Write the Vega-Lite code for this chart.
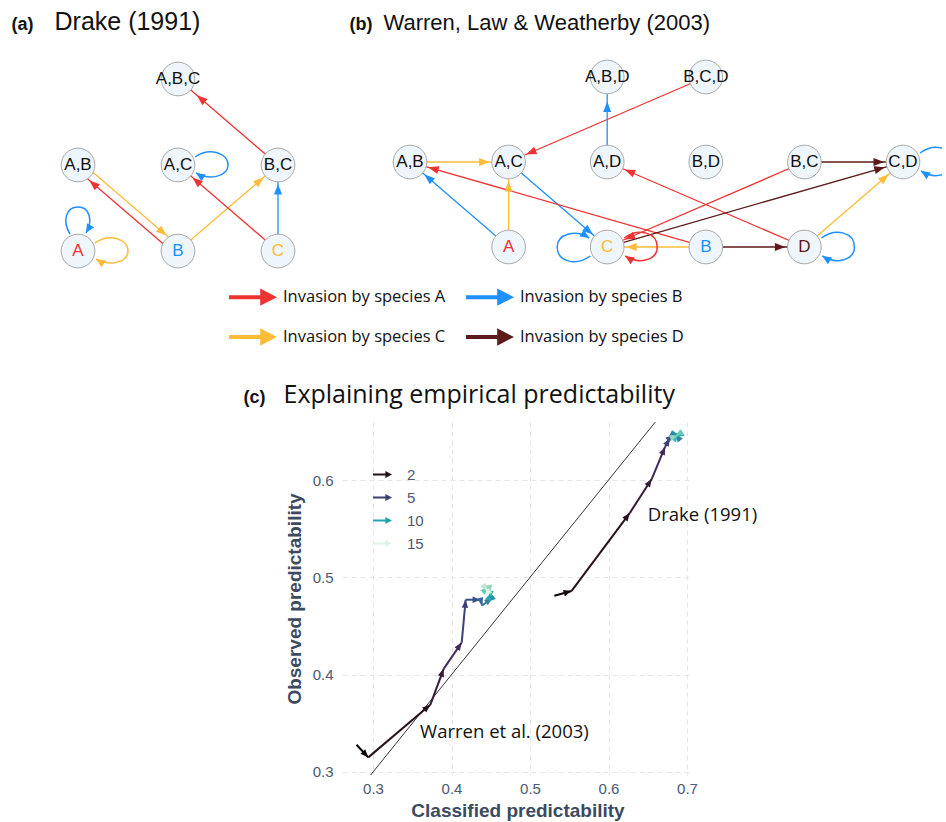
{
  "$schema": "https://vega.github.io/schema/vega-lite/v6.json",
  "background": "white",
  "padding": {"left": 10, "top": 9, "right": 4, "bottom": 2},
  "autosize": {"type": "pad"},
  "columns": 2,
  "bounds": "flush",
  "spacing": {"row": 150, "column": 22},
  "config": {"view": {"stroke": null}, "font": "Liberation Sans", "axis": {"labelFlush": false}},
  "resolve": {"scale": {"fill": "independent", "stroke": "independent", "color": "independent", "shape": "independent", "size": "independent"}},
  "datasets": {
    "nodesA": [
      {"id": "A", "x": 0, "y": 1}, {"id": "B", "x": 1, "y": 1}, {"id": "C", "x": 2, "y": 1},
      {"id": "A,B", "x": 0, "y": 2}, {"id": "A,C", "x": 1, "y": 2}, {"id": "B,C", "x": 2, "y": 2},
      {"id": "A,B,C", "x": 1, "y": 3}
    ],
    "edgesA": [
      {"from": "B", "to": "A,B", "sp": "A"},
      {"from": "A,B", "to": "B", "sp": "C"},
      {"from": "B", "to": "B,C", "sp": "C"},
      {"from": "C", "to": "A,C", "sp": "A"},
      {"from": "C", "to": "B,C", "sp": "B"},
      {"from": "B,C", "to": "A,B,C", "sp": "A"}
    ],
    "loopsA": [
      {"node": "A", "sp": "B", "side": "top"},
      {"node": "A", "sp": "C", "side": "right"},
      {"node": "A,C", "sp": "B", "side": "right"}
    ],
    "nodesB": [
      {"id": "A,B,D", "x": 2, "y": 3}, {"id": "B,C,D", "x": 3, "y": 3},
      {"id": "A,B", "x": 0, "y": 2}, {"id": "A,C", "x": 1, "y": 2}, {"id": "A,D", "x": 2, "y": 2},
      {"id": "B,D", "x": 3, "y": 2}, {"id": "B,C", "x": 4, "y": 2}, {"id": "C,D", "x": 5, "y": 2},
      {"id": "A", "x": 1, "y": 1}, {"id": "C", "x": 2, "y": 1}, {"id": "B", "x": 3, "y": 1}, {"id": "D", "x": 4, "y": 1}
    ],
    "edgesB": [
      {"from": "B,C,D", "to": "A,C", "sp": "A"},
      {"from": "A,D", "to": "A,B,D", "sp": "B"},
      {"from": "A,B", "to": "A,C", "sp": "C"},
      {"from": "A", "to": "A,B", "sp": "B"},
      {"from": "A", "to": "A,C", "sp": "C"},
      {"from": "A,C", "to": "C", "sp": "B"},
      {"from": "B", "to": "A,B", "sp": "A"},
      {"from": "D", "to": "A,D", "sp": "A"},
      {"from": "B,C", "to": "C", "sp": "A"},
      {"from": "B,C", "to": "C,D", "sp": "D"},
      {"from": "C", "to": "C,D", "sp": "D"},
      {"from": "D", "to": "C,D", "sp": "C"},
      {"from": "B", "to": "D", "sp": "D"},
      {"from": "B", "to": "C", "sp": "C"}
    ],
    "loopsB": [
      {"node": "C", "sp": "B", "side": "left"},
      {"node": "C", "sp": "A", "side": "right"},
      {"node": "D", "sp": "B", "side": "right"},
      {"node": "C,D", "sp": "B", "side": "right"}
    ],
    "traj": [
      {"study": "Warren", "step": 1, "x0": 0.279, "y0": 0.328, "x1": 0.294, "y1": 0.315},
      {"study": "Warren", "step": 2, "x0": 0.294, "y0": 0.315, "x1": 0.373, "y1": 0.369},
      {"study": "Warren", "step": 3, "x0": 0.373, "y0": 0.369, "x1": 0.390, "y1": 0.406},
      {"study": "Warren", "step": 4, "x0": 0.390, "y0": 0.406, "x1": 0.413, "y1": 0.433},
      {"study": "Warren", "step": 5, "x0": 0.413, "y0": 0.433, "x1": 0.418, "y1": 0.477},
      {"study": "Warren", "step": 6, "x0": 0.418, "y0": 0.477, "x1": 0.437, "y1": 0.477},
      {"study": "Warren", "step": 7, "x0": 0.437, "y0": 0.477, "x1": 0.439, "y1": 0.471},
      {"study": "Warren", "step": 8, "x0": 0.439, "y0": 0.471, "x1": 0.452, "y1": 0.479},
      {"study": "Warren", "step": 9, "x0": 0.452, "y0": 0.479, "x1": 0.446, "y1": 0.475},
      {"study": "Warren", "step": 10, "x0": 0.446, "y0": 0.475, "x1": 0.450, "y1": 0.484},
      {"study": "Warren", "step": 11, "x0": 0.450, "y0": 0.484, "x1": 0.443, "y1": 0.487},
      {"study": "Warren", "step": 12, "x0": 0.443, "y0": 0.487, "x1": 0.447, "y1": 0.490},
      {"study": "Warren", "step": 13, "x0": 0.447, "y0": 0.490, "x1": 0.441, "y1": 0.491},
      {"study": "Warren", "step": 14, "x0": 0.441, "y0": 0.491, "x1": 0.446, "y1": 0.486},
      {"study": "Warren", "step": 15, "x0": 0.446, "y0": 0.486, "x1": 0.443, "y1": 0.490},
      {"study": "Drake", "step": 1, "x0": 0.531, "y0": 0.481, "x1": 0.553, "y1": 0.486},
      {"study": "Drake", "step": 2, "x0": 0.553, "y0": 0.486, "x1": 0.627, "y1": 0.566},
      {"study": "Drake", "step": 3, "x0": 0.627, "y0": 0.566, "x1": 0.655, "y1": 0.601},
      {"study": "Drake", "step": 4, "x0": 0.655, "y0": 0.601, "x1": 0.672, "y1": 0.634},
      {"study": "Drake", "step": 5, "x0": 0.672, "y0": 0.634, "x1": 0.678, "y1": 0.643},
      {"study": "Drake", "step": 6, "x0": 0.678, "y0": 0.643, "x1": 0.683, "y1": 0.646},
      {"study": "Drake", "step": 7, "x0": 0.683, "y0": 0.646, "x1": 0.688, "y1": 0.644},
      {"study": "Drake", "step": 8, "x0": 0.688, "y0": 0.644, "x1": 0.685, "y1": 0.647},
      {"study": "Drake", "step": 9, "x0": 0.685, "y0": 0.647, "x1": 0.690, "y1": 0.646},
      {"study": "Drake", "step": 10, "x0": 0.690, "y0": 0.646, "x1": 0.686, "y1": 0.644},
      {"study": "Drake", "step": 11, "x0": 0.686, "y0": 0.644, "x1": 0.689, "y1": 0.647},
      {"study": "Drake", "step": 12, "x0": 0.689, "y0": 0.647, "x1": 0.685, "y1": 0.645},
      {"study": "Drake", "step": 13, "x0": 0.685, "y0": 0.645, "x1": 0.688, "y1": 0.646}
    ],
    "ref": [{"x0": 0.25, "y0": 0.25, "x1": 0.7, "y1": 0.7}],
    "notes": [
      {"label": "Warren et al. (2003)", "x": 0.36, "y": 0.341},
      {"label": "Drake (1991)", "x": 0.65, "y": 0.564}
    ]
  },
  "concat": [
    {
      "width": 310, "height": 230,
      "resolve": {"scale": {"shape": "independent"}, "axis": {"x": "independent", "y": "independent"}},
      "layer": [
        {
          "data": {"name": "edgesA"},
          "transform": [
            {"lookup": "to", "from": {"data": {"name": "nodesA"}, "key": "id", "fields": ["x", "y"]}},
            {"lookup": "from", "from": {"data": {"name": "nodesA"}, "key": "id", "fields": ["x", "y"]}, "as": ["x1", "y1"]},
            {"filter": "!((datum.from == 'B' && datum.to == 'A,B') || (datum.from == 'A,B' && datum.to == 'B'))"}
          ],
          "mark": {"type": "rule", "strokeWidth": 1.3},
          "encoding": {
            "x": {"field": "x", "type": "quantitative", "scale": {"domain": [-0.68, 2.42], "nice": false, "zero": false},
                  "axis": {"orient": "top", "domain": false, "ticks": false, "labels": false, "grid": false, "title": "(a)", "titleX": 1, "titleY": -13, "titleAlign": "left", "titleAnchor": "start", "titleBaseline": "alphabetic", "titleAngle": 0, "titleFont": "Liberation Sans", "titleFontSize": 18, "titleFontWeight": "bold", "titleColor": "#111111"}},
            "y": {"field": "y", "type": "quantitative", "scale": {"domain": [0.756, 3.43], "nice": false, "zero": false},
                  "axis": {"orient": "left", "domain": false, "ticks": false, "labels": false, "grid": false, "title": "Drake (1991)", "titleX": 44, "titleY": -13, "titleAlign": "left", "titleAnchor": "start", "titleBaseline": "alphabetic", "titleAngle": 0, "titleFont": "Liberation Sans", "titleFontSize": 25, "titleFontWeight": "normal", "titleColor": "#111111"}},
            "x2": {"field": "x1"}, "y2": {"field": "y1"},
            "stroke": {"field": "sp", "type": "nominal", "scale": {"domain": ["A", "B", "C", "D"], "range": ["#EE3333", "#1E90FF", "#FDBB3A", "#5C1A1A"]}, "legend": null}
          }
        },
        {
          "data": {"name": "edgesA"},
          "transform": [
            {"lookup": "to", "from": {"data": {"name": "nodesA"}, "key": "id", "fields": ["x", "y"]}},
            {"lookup": "from", "from": {"data": {"name": "nodesA"}, "key": "id", "fields": ["x", "y"]}, "as": ["x1", "y1"]},
            {"filter": "datum.from == 'B' && datum.to == 'A,B'"}
          ],
          "mark": {"type": "rule", "strokeWidth": 1.3, "xOffset": -3, "x2Offset": -3, "yOffset": 3, "y2Offset": 3},
          "encoding": {
            "x": {"field": "x", "type": "quantitative", "scale": {"domain": [-0.68, 2.42], "nice": false, "zero": false}, "axis": null},
            "y": {"field": "y", "type": "quantitative", "scale": {"domain": [0.756, 3.43], "nice": false, "zero": false}, "axis": null},
            "x2": {"field": "x1"}, "y2": {"field": "y1"},
            "stroke": {"field": "sp", "type": "nominal", "scale": {"domain": ["A", "B", "C", "D"], "range": ["#EE3333", "#1E90FF", "#FDBB3A", "#5C1A1A"]}, "legend": null}
          }
        },
        {
          "data": {"name": "edgesA"},
          "transform": [
            {"lookup": "to", "from": {"data": {"name": "nodesA"}, "key": "id", "fields": ["x", "y"]}},
            {"lookup": "from", "from": {"data": {"name": "nodesA"}, "key": "id", "fields": ["x", "y"]}, "as": ["x1", "y1"]},
            {"filter": "datum.from == 'A,B' && datum.to == 'B'"}
          ],
          "mark": {"type": "rule", "strokeWidth": 1.3, "xOffset": 3, "x2Offset": 3, "yOffset": -3, "y2Offset": -3},
          "encoding": {
            "x": {"field": "x", "type": "quantitative", "scale": {"domain": [-0.68, 2.42], "nice": false, "zero": false}, "axis": null},
            "y": {"field": "y", "type": "quantitative", "scale": {"domain": [0.756, 3.43], "nice": false, "zero": false}, "axis": null},
            "x2": {"field": "x1"}, "y2": {"field": "y1"},
            "stroke": {"field": "sp", "type": "nominal", "scale": {"domain": ["A", "B", "C", "D"], "range": ["#EE3333", "#1E90FF", "#FDBB3A", "#5C1A1A"]}, "legend": null}
          }
        },
        {
          "data": {"name": "loopsA"},
          "transform": [{"lookup": "node", "from": {"data": {"name": "nodesA"}, "key": "id", "fields": ["x", "y"]}}],
          "mark": {"type": "point", "filled": false, "opacity": 1, "strokeWidth": 1.5},
          "encoding": {
            "x": {"field": "x", "type": "quantitative", "scale": {"domain": [-0.68, 2.42], "nice": false, "zero": false}, "axis": null},
            "y": {"field": "y", "type": "quantitative", "scale": {"domain": [0.756, 3.43], "nice": false, "zero": false}, "axis": null},
            "shape": {"field": "side", "type": "nominal", "scale": {"domain": ["right", "left", "top"], "range": ["M17,-8 C32,-18 50,-12 50,0 C50,11 32,16 18,8", "M-17,9 C-32,20 -50,14 -50,0 C-50,-13 -32,-18 -18,-9", "M-8,-17 C-16,-30 -12,-44 0,-44 C12,-44 15,-30 8,-18"]}, "legend": null},
            "size": {"value": 4},
            "stroke": {"field": "sp", "type": "nominal", "scale": {"domain": ["A", "B", "C", "D"], "range": ["#EE3333", "#1E90FF", "#FDBB3A", "#5C1A1A"]}, "legend": null}
          }
        },
        {
          "data": {"name": "nodesA"},
          "mark": {"type": "point", "shape": "circle", "filled": true, "fill": "#EEF5FB", "stroke": "#A8A8A8", "strokeWidth": 1, "opacity": 1},
          "encoding": {
            "x": {"field": "x", "type": "quantitative", "scale": {"domain": [-0.68, 2.42], "nice": false, "zero": false}, "axis": null},
            "y": {"field": "y", "type": "quantitative", "scale": {"domain": [0.756, 3.43], "nice": false, "zero": false}, "axis": null},
            "size": {"field": "y", "type": "ordinal", "scale": {"domain": [1, 2, 3], "range": [1134, 1134, 1963]}, "legend": null}
          }
        },
        {
          "data": {"name": "edgesA"},
          "transform": [
            {"lookup": "to", "from": {"data": {"name": "nodesA"}, "key": "id", "fields": ["x", "y"]}},
            {"lookup": "from", "from": {"data": {"name": "nodesA"}, "key": "id", "fields": ["x", "y"]}, "as": ["x1", "y1"]},
            {"filter": "!((datum.from == 'B' && datum.to == 'A,B') || (datum.from == 'A,B' && datum.to == 'B'))"},
            {"calculate": "atan2((datum.x - datum.x1) * 100, (datum.y - datum.y1) * 86) * 180 / PI", "as": "ang"}
          ],
          "mark": {"type": "point", "filled": true, "opacity": 1, "strokeWidth": 0},
          "encoding": {
            "x": {"field": "x", "type": "quantitative", "scale": {"domain": [-0.68, 2.42], "nice": false, "zero": false}, "axis": null},
            "y": {"field": "y", "type": "quantitative", "scale": {"domain": [0.756, 3.43], "nice": false, "zero": false}, "axis": null},
            "shape": {"field": "y", "type": "ordinal", "scale": {"domain": [1, 2, 3], "range": ["M0,19 L-4,29.5 L4,29.5 Z", "M0,19 L-4,29.5 L4,29.5 Z", "M0,25 L-4,35.5 L4,35.5 Z"]}, "legend": null},
            "angle": {"field": "ang", "type": "quantitative", "scale": null},
            "size": {"value": 4},
            "fill": {"field": "sp", "type": "nominal", "scale": {"domain": ["A", "B", "C", "D"], "range": ["#EE3333", "#1E90FF", "#FDBB3A", "#5C1A1A"]}, "legend": null}
          }
        },
        {
          "data": {"name": "edgesA"},
          "transform": [
            {"lookup": "to", "from": {"data": {"name": "nodesA"}, "key": "id", "fields": ["x", "y"]}},
            {"lookup": "from", "from": {"data": {"name": "nodesA"}, "key": "id", "fields": ["x", "y"]}, "as": ["x1", "y1"]},
            {"filter": "datum.from == 'B' && datum.to == 'A,B'"},
            {"calculate": "atan2((datum.x - datum.x1) * 100, (datum.y - datum.y1) * 86) * 180 / PI", "as": "ang"}
          ],
          "mark": {"type": "point", "filled": true, "opacity": 1, "strokeWidth": 0, "xOffset": -3, "yOffset": 3},
          "encoding": {
            "x": {"field": "x", "type": "quantitative", "scale": {"domain": [-0.68, 2.42], "nice": false, "zero": false}, "axis": null},
            "y": {"field": "y", "type": "quantitative", "scale": {"domain": [0.756, 3.43], "nice": false, "zero": false}, "axis": null},
            "shape": {"field": "y", "type": "ordinal", "scale": {"domain": [1, 2, 3], "range": ["M0,19 L-4,29.5 L4,29.5 Z", "M0,19 L-4,29.5 L4,29.5 Z", "M0,25 L-4,35.5 L4,35.5 Z"]}, "legend": null},
            "angle": {"field": "ang", "type": "quantitative", "scale": null},
            "size": {"value": 4},
            "fill": {"field": "sp", "type": "nominal", "scale": {"domain": ["A", "B", "C", "D"], "range": ["#EE3333", "#1E90FF", "#FDBB3A", "#5C1A1A"]}, "legend": null}
          }
        },
        {
          "data": {"name": "edgesA"},
          "transform": [
            {"lookup": "to", "from": {"data": {"name": "nodesA"}, "key": "id", "fields": ["x", "y"]}},
            {"lookup": "from", "from": {"data": {"name": "nodesA"}, "key": "id", "fields": ["x", "y"]}, "as": ["x1", "y1"]},
            {"filter": "datum.from == 'A,B' && datum.to == 'B'"},
            {"calculate": "atan2((datum.x - datum.x1) * 100, (datum.y - datum.y1) * 86) * 180 / PI", "as": "ang"}
          ],
          "mark": {"type": "point", "filled": true, "opacity": 1, "strokeWidth": 0, "xOffset": 3, "yOffset": -3},
          "encoding": {
            "x": {"field": "x", "type": "quantitative", "scale": {"domain": [-0.68, 2.42], "nice": false, "zero": false}, "axis": null},
            "y": {"field": "y", "type": "quantitative", "scale": {"domain": [0.756, 3.43], "nice": false, "zero": false}, "axis": null},
            "shape": {"field": "y", "type": "ordinal", "scale": {"domain": [1, 2, 3], "range": ["M0,19 L-4,29.5 L4,29.5 Z", "M0,19 L-4,29.5 L4,29.5 Z", "M0,25 L-4,35.5 L4,35.5 Z"]}, "legend": null},
            "angle": {"field": "ang", "type": "quantitative", "scale": null},
            "size": {"value": 4},
            "fill": {"field": "sp", "type": "nominal", "scale": {"domain": ["A", "B", "C", "D"], "range": ["#EE3333", "#1E90FF", "#FDBB3A", "#5C1A1A"]}, "legend": null}
          }
        },
        {
          "data": {"name": "loopsA"},
          "transform": [{"lookup": "node", "from": {"data": {"name": "nodesA"}, "key": "id", "fields": ["x", "y"]}}],
          "mark": {"type": "point", "filled": true, "opacity": 1, "strokeWidth": 0},
          "encoding": {
            "x": {"field": "x", "type": "quantitative", "scale": {"domain": [-0.68, 2.42], "nice": false, "zero": false}, "axis": null},
            "y": {"field": "y", "type": "quantitative", "scale": {"domain": [0.756, 3.43], "nice": false, "zero": false}, "axis": null},
            "shape": {"field": "side", "type": "nominal", "scale": {"domain": ["right", "left", "top"], "range": ["M18,8 L23.5,16.3 L27.8,9.5 Z", "M-18,-9 L-23.4,-17.3 L-27.8,-10.5 Z", "M8,-18 L16,-23.8 L9,-27.8 Z"]}, "legend": null},
            "size": {"value": 4},
            "fill": {"field": "sp", "type": "nominal", "scale": {"domain": ["A", "B", "C", "D"], "range": ["#EE3333", "#1E90FF", "#FDBB3A", "#5C1A1A"]}, "legend": null}
          }
        },
        {
          "data": {"name": "nodesA"},
          "mark": {"type": "text", "font": "Liberation Sans", "fontSize": 17, "baseline": "middle", "align": "center"},
          "encoding": {
            "x": {"field": "x", "type": "quantitative", "scale": {"domain": [-0.68, 2.42], "nice": false, "zero": false}, "axis": null},
            "y": {"field": "y", "type": "quantitative", "scale": {"domain": [0.756, 3.43], "nice": false, "zero": false}, "axis": null},
            "text": {"field": "id"},
            "color": {"condition": [{"test": "datum.id == 'A'", "value": "#EE3333"}, {"test": "datum.id == 'B'", "value": "#1E90FF"}, {"test": "datum.id == 'C'", "value": "#FDBB3A"}, {"test": "datum.id == 'D'", "value": "#5C1A1A"}], "value": "#111111"}
          }
        }
      ]
    },
    {
      "width": 600, "height": 230,
      "resolve": {"scale": {"shape": "independent"}, "axis": {"x": "independent", "y": "independent"}},
      "layer": [
        {
          "data": {"name": "edgesB"},
          "transform": [
            {"lookup": "to", "from": {"data": {"name": "nodesB"}, "key": "id", "fields": ["x", "y"]}},
            {"lookup": "from", "from": {"data": {"name": "nodesB"}, "key": "id", "fields": ["x", "y"]}, "as": ["x1", "y1"]}
          ],
          "mark": {"type": "rule", "strokeWidth": 1.3},
          "encoding": {
            "x": {"field": "x", "type": "quantitative", "scale": {"domain": [-0.6897, 5.3955], "nice": false, "zero": false},
                  "axis": {"orient": "top", "domain": false, "ticks": false, "labels": false, "grid": false, "title": "(b)", "titleX": 7, "titleY": -13, "titleAlign": "left", "titleAnchor": "start", "titleBaseline": "alphabetic", "titleAngle": 0, "titleFont": "Liberation Sans", "titleFontSize": 18, "titleFontWeight": "bold", "titleColor": "#111111"}},
            "y": {"field": "y", "type": "quantitative", "scale": {"domain": [0.7059, 3.4118], "nice": false, "zero": false},
                  "axis": {"orient": "left", "domain": false, "ticks": false, "labels": false, "grid": false, "title": "Warren, Law & Weatherby (2003)", "titleX": 41, "titleY": -13, "titleAlign": "left", "titleAnchor": "start", "titleBaseline": "alphabetic", "titleAngle": 0, "titleFont": "Liberation Sans", "titleFontSize": 22, "titleFontWeight": "normal", "titleColor": "#111111", "titleLimit": 500}},
            "x2": {"field": "x1"}, "y2": {"field": "y1"},
            "stroke": {"field": "sp", "type": "nominal", "scale": {"range": ["#EE3333", "#1E90FF", "#FDBB3A", "#5C1A1A"]}, "legend": null}
          }
        },
        {
          "data": {"name": "loopsB"},
          "transform": [{"lookup": "node", "from": {"data": {"name": "nodesB"}, "key": "id", "fields": ["x", "y"]}}],
          "mark": {"type": "point", "filled": false, "opacity": 1, "strokeWidth": 1.5, "clip": true},
          "encoding": {
            "x": {"field": "x", "type": "quantitative", "scale": {"domain": [-0.6897, 5.3955], "nice": false, "zero": false}, "axis": null},
            "y": {"field": "y", "type": "quantitative", "scale": {"domain": [0.7059, 3.4118], "nice": false, "zero": false}, "axis": null},
            "shape": {"field": "side", "type": "nominal", "scale": {"domain": ["right", "left", "top"], "range": ["M17,-9 C32,-20 50,-14 50,0 C50,13 32,18 18,9", "M-17,9 C-32,20 -50,14 -50,0 C-50,-13 -32,-18 -18,-9", "M-8,-17 C-16,-30 -12,-44 0,-44 C12,-44 15,-30 8,-18"]}, "legend": null},
            "size": {"value": 4},
            "stroke": {"field": "sp", "type": "nominal", "scale": {"range": ["#EE3333", "#1E90FF", "#FDBB3A", "#5C1A1A"]}, "legend": null}
          }
        },
        {
          "data": {"name": "nodesB"},
          "mark": {"type": "point", "shape": "circle", "filled": true, "fill": "#EEF5FB", "stroke": "#A8A8A8", "strokeWidth": 1, "opacity": 1},
          "encoding": {
            "x": {"field": "x", "type": "quantitative", "scale": {"domain": [-0.6897, 5.3955], "nice": false, "zero": false}, "axis": null},
            "y": {"field": "y", "type": "quantitative", "scale": {"domain": [0.7059, 3.4118], "nice": false, "zero": false}, "axis": null},
            "size": {"field": "y", "type": "ordinal", "scale": {"domain": [1, 2, 3], "range": [1134, 1134, 1886]}, "legend": null}
          }
        },
        {
          "data": {"name": "edgesB"},
          "transform": [
            {"lookup": "to", "from": {"data": {"name": "nodesB"}, "key": "id", "fields": ["x", "y"]}},
            {"lookup": "from", "from": {"data": {"name": "nodesB"}, "key": "id", "fields": ["x", "y"]}, "as": ["x1", "y1"]},
            {"calculate": "atan2((datum.x - datum.x1) * 98.6, (datum.y - datum.y1) * 85) * 180 / PI", "as": "ang"}
          ],
          "mark": {"type": "point", "filled": true, "opacity": 1, "strokeWidth": 0},
          "encoding": {
            "x": {"field": "x", "type": "quantitative", "scale": {"domain": [-0.6897, 5.3955], "nice": false, "zero": false}, "axis": null},
            "y": {"field": "y", "type": "quantitative", "scale": {"domain": [0.7059, 3.4118], "nice": false, "zero": false}, "axis": null},
            "shape": {"field": "y", "type": "ordinal", "scale": {"domain": [1, 2, 3], "range": ["M0,19 L-4,29.5 L4,29.5 Z", "M0,19 L-4,29.5 L4,29.5 Z", "M0,24.5 L-4,35 L4,35 Z"]}, "legend": null},
            "angle": {"field": "ang", "type": "quantitative", "scale": null},
            "size": {"value": 4},
            "fill": {"field": "sp", "type": "nominal", "scale": {"domain": ["A", "B", "C", "D"], "range": ["#EE3333", "#1E90FF", "#FDBB3A", "#5C1A1A"]},
                     "legend": {"orient": "none", "legendX": -113, "legendY": 231, "title": null, "columns": 2, "direction": "horizontal", "symbolType": "M-1,-0.085 L0.3,-0.085 L0.3,-0.36 L1,0 L0.3,0.36 L0.3,0.085 L-1,0.085 Z", "symbolSize": 2304, "symbolStrokeWidth": 0, "symbolOpacity": 1, "labelFont": "Open Sans", "labelFontSize": 16.5, "labelColor": "#111111", "labelOffset": 6, "labelLimit": 300, "columnPadding": 20, "rowPadding": 7, "padding": 0, "labelExpr": "'Invasion by species ' + datum.label"}}
          }
        },
        {
          "data": {"name": "loopsB"},
          "transform": [{"lookup": "node", "from": {"data": {"name": "nodesB"}, "key": "id", "fields": ["x", "y"]}}],
          "mark": {"type": "point", "filled": true, "opacity": 1, "strokeWidth": 0},
          "encoding": {
            "x": {"field": "x", "type": "quantitative", "scale": {"domain": [-0.6897, 5.3955], "nice": false, "zero": false}, "axis": null},
            "y": {"field": "y", "type": "quantitative", "scale": {"domain": [0.7059, 3.4118], "nice": false, "zero": false}, "axis": null},
            "shape": {"field": "side", "type": "nominal", "scale": {"domain": ["right", "left", "top"], "range": ["M18,9 L23.4,17.3 L27.8,10.5 Z", "M-18,-9 L-23.4,-17.3 L-27.8,-10.5 Z", "M8,-18 L16,-23.8 L9,-27.8 Z"]}, "legend": null},
            "size": {"value": 4},
            "fill": {"field": "sp", "type": "nominal", "scale": {"domain": ["A", "B", "C", "D"], "range": ["#EE3333", "#1E90FF", "#FDBB3A", "#5C1A1A"]},
                     "legend": {"orient": "none", "legendX": -113, "legendY": 231, "title": null, "columns": 2, "direction": "horizontal", "symbolType": "M-1,-0.085 L0.3,-0.085 L0.3,-0.36 L1,0 L0.3,0.36 L0.3,0.085 L-1,0.085 Z", "symbolSize": 2304, "symbolStrokeWidth": 0, "symbolOpacity": 1, "labelFont": "Open Sans", "labelFontSize": 16.5, "labelColor": "#111111", "labelOffset": 6, "labelLimit": 300, "columnPadding": 20, "rowPadding": 7, "padding": 0, "labelExpr": "'Invasion by species ' + datum.label"}}
          }
        },
        {
          "data": {"name": "nodesB"},
          "mark": {"type": "text", "font": "Liberation Sans", "fontSize": 17, "baseline": "middle", "align": "center"},
          "encoding": {
            "x": {"field": "x", "type": "quantitative", "scale": {"domain": [-0.6897, 5.3955], "nice": false, "zero": false}, "axis": null},
            "y": {"field": "y", "type": "quantitative", "scale": {"domain": [0.7059, 3.4118], "nice": false, "zero": false}, "axis": null},
            "text": {"field": "id"},
            "color": {"condition": [{"test": "datum.id == 'A'", "value": "#EE3333"}, {"test": "datum.id == 'B'", "value": "#1E90FF"}, {"test": "datum.id == 'C'", "value": "#FDBB3A"}, {"test": "datum.id == 'D'", "value": "#5C1A1A"}], "value": "#111111"}
          }
        }
      ]
    },
    {"width": 310, "height": 10, "data": {"values": []}, "mark": {"type": "point"}},
    {
      "width": 351, "height": 353,
      "resolve": {"axis": {"x": "independent", "y": "independent"}},
      "layer": [
        {
          "data": {"name": "ref"},
          "mark": {"type": "rule", "color": "#000000", "strokeWidth": 0.8, "clip": true},
          "encoding": {
            "x": {"field": "x0", "type": "quantitative", "scale": {"domain": [0.2605, 0.7076], "nice": false, "zero": false}, "axis": null},
            "y": {"field": "y0", "type": "quantitative", "scale": {"domain": [0.2969, 0.6596], "nice": false, "zero": false}, "axis": null},
            "x2": {"field": "x1"}, "y2": {"field": "y1"}
          }
        },
        {
          "data": {"name": "traj"},
          "mark": {"type": "rule", "strokeWidth": 2},
          "encoding": {
            "x": {"field": "x0", "type": "quantitative", "scale": {"domain": [0.2605, 0.7076], "nice": false, "zero": false},
                  "axis": {"orient": "bottom", "values": [0.3, 0.4, 0.5, 0.6, 0.7], "format": ".1f", "grid": true, "gridColor": "#E6E6E6", "gridDash": [5, 4], "gridWidth": 1, "domain": false, "ticks": false, "tickSize": 0, "labelPadding": 6, "labelFont": "Liberation Sans", "labelFontSize": 15, "labelColor": "#4A5A70", "title": "Classified predictability", "titleFont": "Liberation Sans", "titleFontSize": 19, "titleFontWeight": "bold", "titleColor": "#3B4A5E", "titlePadding": 5}},
            "y": {"field": "y0", "type": "quantitative", "scale": {"domain": [0.2969, 0.6596], "nice": false, "zero": false},
                  "axis": {"orient": "left", "values": [0.3, 0.4, 0.5, 0.6], "format": ".1f", "grid": true, "gridColor": "#E6E6E6", "gridDash": [5, 4], "gridWidth": 1, "domain": false, "ticks": false, "tickSize": 0, "labelPadding": 9, "labelFont": "Liberation Sans", "labelFontSize": 15, "labelColor": "#4A5A70", "title": "Observed predictability", "titleFont": "Liberation Sans", "titleFontSize": 19, "titleFontWeight": "bold", "titleColor": "#3B4A5E", "titlePadding": 8}},
            "x2": {"field": "x1"}, "y2": {"field": "y1"},
            "stroke": {"field": "step", "type": "quantitative", "scale": {"type": "linear", "domain": [1, 4.5, 8, 11.5, 15.0001], "range": ["#0B0405", "#3E356B", "#357BA2", "#49C1AD", "#DEF5E5"], "clamp": true}, "legend": null}
          }
        },
        {
          "data": {"name": "traj"},
          "transform": [{"calculate": "atan2((datum.x1 - datum.x0) * 785, (datum.y1 - datum.y0) * 973) * 180 / PI", "as": "ang"}],
          "mark": {"type": "point", "shape": "M0,0 L-3.2,8 L3.2,8 Z", "filled": true, "opacity": 1, "strokeWidth": 0},
          "encoding": {
            "x": {"field": "x1", "type": "quantitative", "scale": {"domain": [0.2605, 0.7076], "nice": false, "zero": false}, "axis": null},
            "y": {"field": "y1", "type": "quantitative", "scale": {"domain": [0.2969, 0.6596], "nice": false, "zero": false}, "axis": null},
            "angle": {"field": "ang", "type": "quantitative", "scale": null},
            "size": {"value": 4},
            "fill": {"field": "step", "type": "quantitative", "scale": {"type": "linear", "domain": [1, 4.5, 8, 11.5, 15], "range": ["#0B0405", "#3E356B", "#357BA2", "#49C1AD", "#DEF5E5"], "clamp": true},
                     "legend": {"type": "symbol", "values": [2, 5, 10, 15], "title": null, "orient": "none", "legendX": 31, "legendY": 43, "symbolType": "M-1,-0.11 L0.3,-0.11 L0.3,-0.36 L1,0 L0.3,0.36 L0.3,0.11 L-1,0.11 Z", "symbolSize": 361, "symbolStrokeWidth": 0, "symbolOpacity": 1, "labelFont": "Liberation Sans", "labelFontSize": 15, "labelColor": "#4A5A70", "labelOffset": 15, "rowPadding": 5, "padding": 0}}
          }
        },
        {
          "data": {"name": "notes"},
          "mark": {"type": "text", "align": "left", "baseline": "middle", "font": "Open Sans", "fontSize": 18.5, "color": "#111111"},
          "encoding": {
            "x": {"field": "x", "type": "quantitative", "scale": {"domain": [0.2605, 0.7076], "nice": false, "zero": false},
                  "axis": {"orient": "top", "domain": false, "ticks": false, "labels": false, "grid": false, "title": "(c)", "titleX": -99, "titleY": -20, "titleAlign": "left", "titleAnchor": "start", "titleBaseline": "alphabetic", "titleAngle": 0, "titleFont": "Liberation Sans", "titleFontSize": 18, "titleFontWeight": "bold", "titleColor": "#111111"}},
            "y": {"field": "y", "type": "quantitative", "scale": {"domain": [0.2969, 0.6596], "nice": false, "zero": false},
                  "axis": {"orient": "right", "domain": false, "ticks": false, "labels": false, "grid": false, "title": "Explaining empirical predictability", "titleX": -410, "titleY": -20, "titleAlign": "left", "titleAnchor": "start", "titleBaseline": "alphabetic", "titleAngle": 0, "titleFont": "Open Sans", "titleFontSize": 25, "titleFontWeight": "normal", "titleColor": "#111111", "titleLimit": 600}},
            "text": {"field": "label"}
          }
        }
      ]
    }
  ]
}
